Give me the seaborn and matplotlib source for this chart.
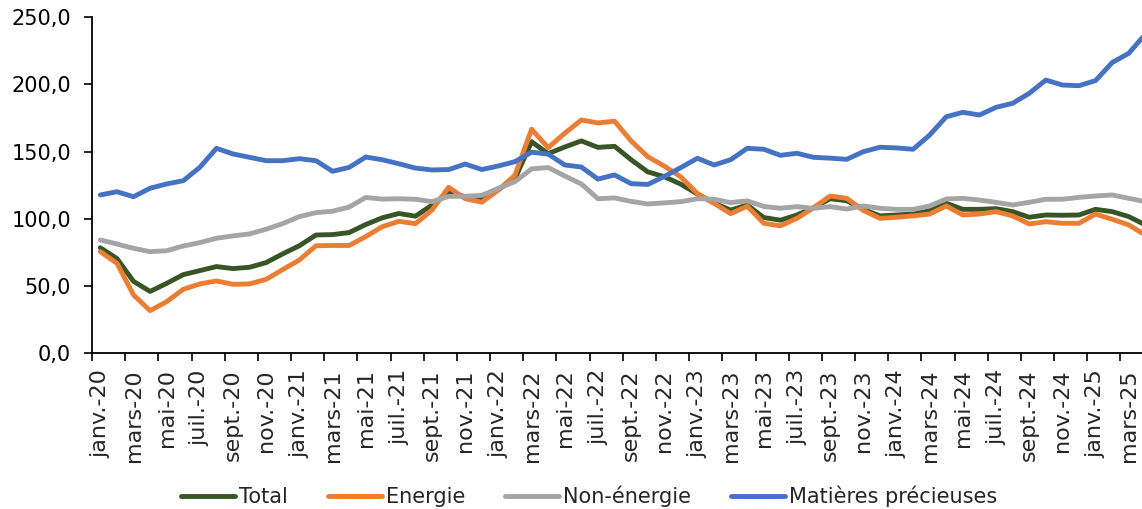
import numpy as np
import pandas as pd
import matplotlib
matplotlib.use("Agg")
import matplotlib.pyplot as plt
import seaborn as sns
from matplotlib.ticker import FixedLocator, NullFormatter, FuncFormatter

# ---------------- data ----------------
tick_labels = ["janv.-20", "mars-20", "mai-20", "juil.-20", "sept.-20", "nov.-20",
               "janv.-21", "mars-21", "mai-21", "juil.-21", "sept.-21", "nov.-21",
               "janv.-22", "mars-22", "mai-22", "juil.-22", "sept.-22", "nov.-22",
               "janv.-23", "mars-23", "mai-23", "juil.-23", "sept.-23", "nov.-23",
               "janv.-24", "mars-24", "mai-24", "juil.-24", "sept.-24", "nov.-24",
               "janv.-25", "mars-25"]

total = [78.5, 70.5, 53.5, 46.0, 52.0, 58.5, 61.5, 64.5, 63.0, 64.0, 67.5, 74.0,
         80.0, 88.0, 88.3, 89.8, 95.8, 100.8, 104.0, 102.0, 110.3, 119.8, 116.5, 115.5,
         121.8, 130.0, 157.4, 148.5, 153.5, 158.0, 153.2, 154.0, 144.0, 135.0, 131.4, 125.8,
         118.5, 111.8, 106.5, 110.3, 101.0, 99.0, 102.9, 108.3, 115.0, 113.5, 107.1, 102.2,
         102.9, 103.6, 106.1, 111.6, 107.1, 107.1, 107.6, 105.4, 101.2, 102.9, 102.7, 102.9,
         107.1, 105.4, 101.7, 95.5]

energie = [75.6, 67.0, 43.4, 31.7, 38.4, 47.6, 51.6, 53.8, 51.3, 51.6, 55.0, 62.3,
           69.4, 80.0, 80.2, 80.2, 86.8, 94.2, 98.2, 96.4, 106.6, 123.5, 115.0, 112.4,
           121.5, 132.6, 166.7, 153.0, 163.7, 173.6, 171.4, 172.7, 158.0, 146.3, 139.3, 131.2,
           118.8, 111.6, 103.9, 109.4, 96.7, 94.8, 100.4, 108.3, 117.0, 115.3, 106.3, 100.4,
           101.2, 102.2, 103.6, 109.6, 102.9, 103.6, 105.4, 102.2, 96.2, 97.9, 96.7, 96.7,
           103.6, 99.7, 95.5, 88.0]

non_energie = [84.3, 81.3, 78.1, 75.6, 76.3, 79.8, 82.3, 85.6, 87.3, 88.8, 92.3, 96.5,
               101.7, 104.6, 105.7, 108.8, 115.9, 114.7, 115.0, 114.6, 112.8, 116.7, 116.8, 117.5,
               122.8, 127.7, 137.2, 138.2, 131.9, 126.0, 115.0, 115.6, 113.0, 111.1, 111.9, 112.8,
               115.0, 114.6, 112.1, 113.4, 109.2, 107.9, 109.1, 107.9, 109.1, 107.3, 109.6, 107.9,
               107.1, 107.1, 109.6, 114.8, 115.3, 114.0, 112.3, 110.3, 112.3, 114.6, 114.6, 116.0,
               117.0, 117.8, 115.3, 112.8]

precieuses = [117.8, 120.2, 116.5, 122.8, 126.0, 128.4, 138.4, 152.5, 148.3, 145.8, 143.3, 143.3,
              144.8, 143.3, 135.4, 138.3, 146.0, 144.0, 141.0, 137.8, 136.4, 136.7, 140.8, 136.7,
              139.4, 142.6, 149.6, 148.2, 140.1, 138.6, 129.6, 132.7, 126.2, 125.6, 131.5, 138.2,
              145.1, 140.1, 144.0, 152.5, 151.8, 147.3, 148.8, 145.8, 145.2, 144.3, 150.0, 153.3,
              152.8, 151.8, 162.4, 176.0, 179.3, 177.3, 183.0, 186.0, 193.4, 203.3, 199.6, 199.1,
              202.9, 216.3, 223.2, 237.4]

series_names = ["Total", "Energie", "Non-énergie", "Matières précieuses"]
series_colors = ["#375623", "#ED7D31", "#A5A5A5", "#4472C4"]

# ---------------- build frame ----------------
n = len(total)
idx = np.arange(n)
df = pd.concat([
    pd.DataFrame({"mois": idx, "valeur": vals, "serie": name})
    for name, vals in zip(series_names, [total, energie, non_energie, precieuses])
], ignore_index=True)

# ---------------- plot ----------------
sns.set_style("white")
plt.rcParams["font.family"] = ["DejaVu Sans"]

fig = plt.figure(figsize=(11.42, 5.09), dpi=100)
ax = fig.add_axes([0.0806, 0.306, 0.9194, 0.66])

sns.lineplot(data=df, x="mois", y="valeur", hue="serie", hue_order=series_names,
             palette=dict(zip(series_names, series_colors)), linewidth=3.5,
             ax=ax, legend=False, sort=False)

ax.set_xlim(-0.5, n - 1.2)
ax.set_ylim(0, 250)
ax.set_xlabel("")
ax.set_ylabel("")

# y axis
ax.set_yticks(np.arange(0, 251, 50))
ax.yaxis.set_major_formatter(FuncFormatter(lambda v, p: f"{v:.1f}".replace(".", ",")))
ax.tick_params(axis="y", which="major", direction="out", length=6, width=1.2,
               colors="black", labelsize=15, pad=9, left=True)

# x axis: tick marks at category boundaries every 2 months, labels at category centres
ax.xaxis.set_major_locator(FixedLocator(np.arange(-0.5, n, 2)))
ax.xaxis.set_major_formatter(NullFormatter())
ax.set_xticks(np.arange(0, n, 2), minor=True)
ax.set_xticklabels(tick_labels, minor=True, rotation=90)
ax.tick_params(axis="x", which="major", direction="out", length=6, width=1.2,
               colors="black", bottom=True)
ax.tick_params(axis="x", which="minor", length=0, labelsize=16, pad=11.5, bottom=True)

for side in ["top", "right"]:
    ax.spines[side].set_visible(False)
for side in ["left", "bottom"]:
    ax.spines[side].set_color("black")
    ax.spines[side].set_linewidth(1.3)
ax.grid(False)

handles = [plt.Line2D([0], [0], color=c, linewidth=3.5) for c in series_colors]
fig.legend(handles, series_names, loc="center", bbox_to_anchor=(0.516, 0.025),
           ncol=4, frameon=False, fontsize=15, handlelength=2.6, handletextpad=0.2,
           columnspacing=1.9)

fig.savefig("out.png", dpi=100)
